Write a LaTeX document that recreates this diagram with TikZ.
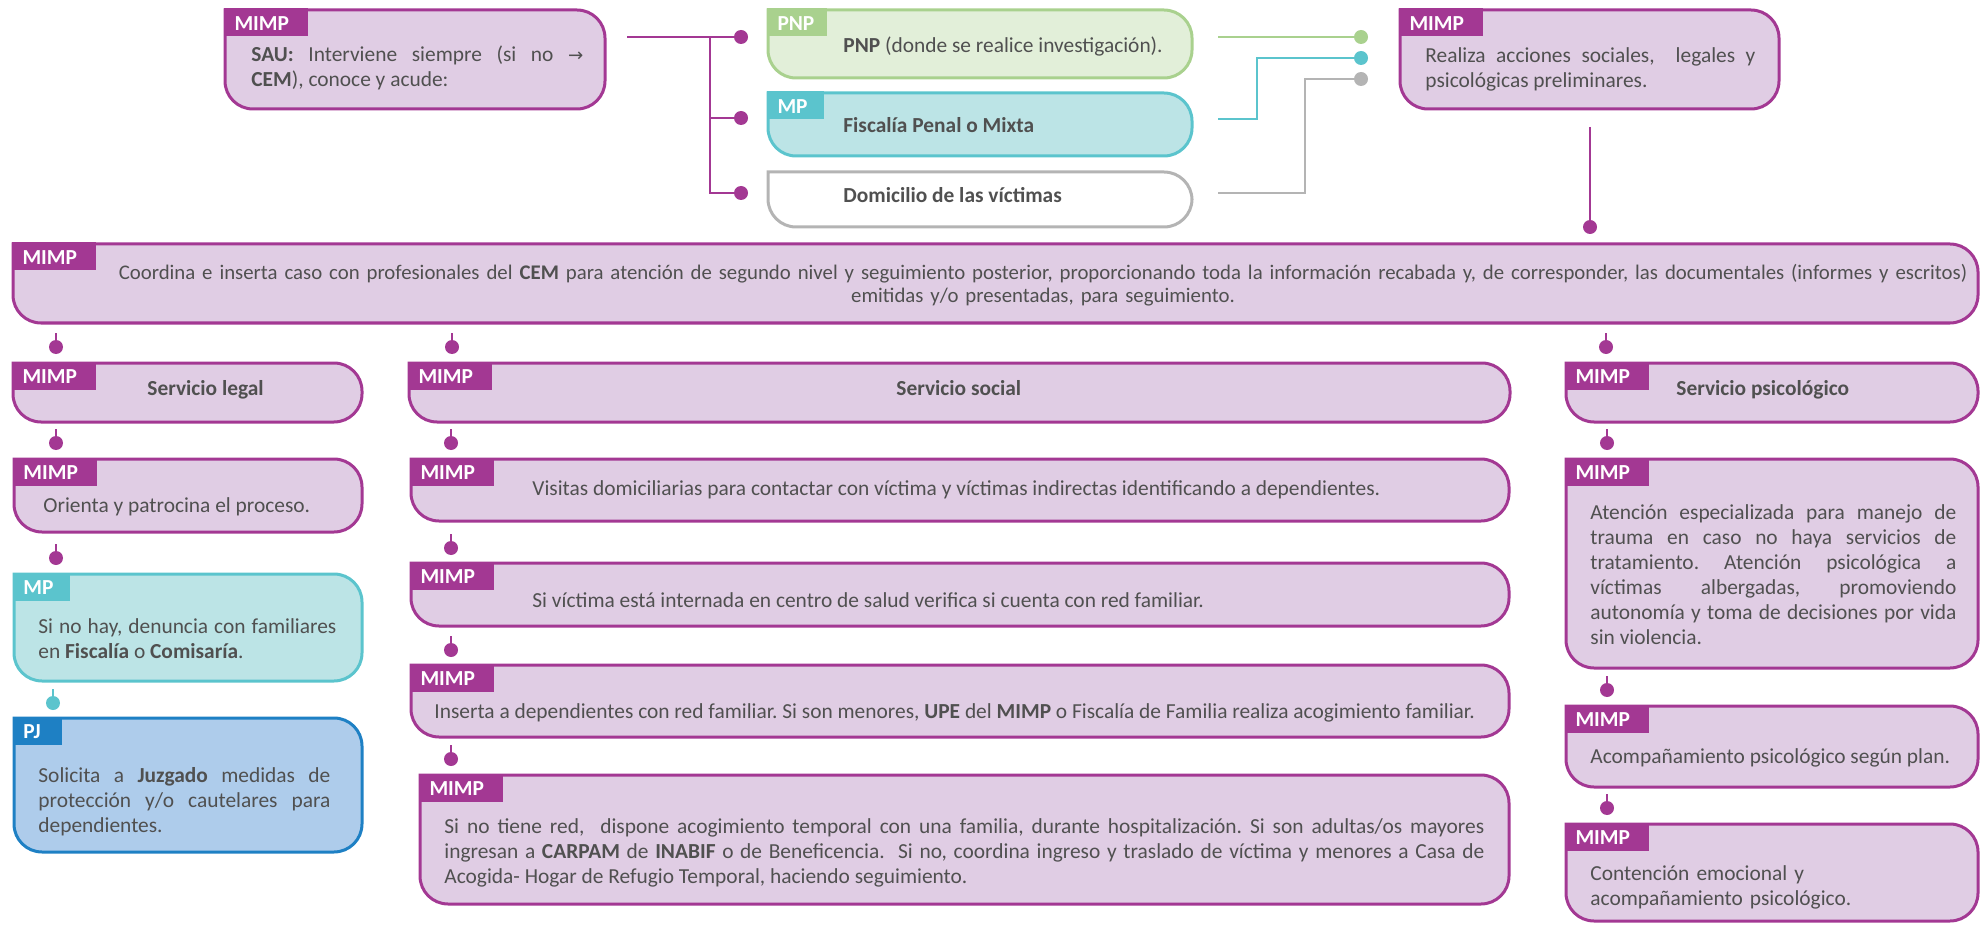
\documentclass[tikz,border=0pt]{standalone}
\usepackage{fontspec}
\setmainfont{Carlito}
\newfontfamily\arrowfnt[Scale=0.85]{DejaVu Sans}
\usetikzlibrary{fit}

\definecolor{ink}{RGB}{80,80,80}
\definecolor{mimp}{RGB}{163,56,147}
\definecolor{mimpfill}{RGB}{224,205,228}
\definecolor{pnpgreen}{RGB}{169,209,142}
\definecolor{pnpgreenfill}{RGB}{226,239,217}
\definecolor{mpteal}{RGB}{91,196,205}
\definecolor{mptealfill}{RGB}{188,228,230}
\definecolor{pjblue}{RGB}{30,128,196}
\definecolor{pjbluefill}{RGB}{174,204,235}
\definecolor{domgray}{RGB}{180,180,180}
\definecolor{domgrayfill}{RGB}{255,255,255}

\frenchspacing
\newcommand\bodyfont{\fontsize{10.7pt}{12.5pt}\selectfont}
% outline of a card: square top-left corner, the others rounded
\newcommand\drawcard[2]{\draw[cardline=#1] (#2.north west) -- (#2.north east) -- (#2.south east) -- (#2.south west) -- (#2.north west);}

\begin{document}
\begin{tikzpicture}[x=0.5pt, y=-0.5pt]
  \tikzset{
    card/.style={rectangle, inner sep=0pt, outer sep=0pt},
    cardline/.style={draw=#1, fill=#1fill, line width=1.5pt, rounded corners=14pt, line cap=rect},
    tag/.style 2 args={
      rectangle, fill=#1, text=white, font=\bodyfont\bfseries,
      anchor=north west, inner xsep=5.5pt, inner ysep=0pt, outer sep=0pt,
      text width=#2, align=left, minimum height=14pt,
      text height=8pt, text depth=0pt,
    },
    txt/.style={anchor=base west, inner sep=0pt, text=ink, font=\bodyfont},
    dot/.style={circle, fill=#1, inner sep=0pt, minimum size=7pt},
    link/.style={draw=#1, line width=0.8pt},
  }
  \useasboundingbox (0,0) rectangle (1981,925);

  % first contact
  \node[card, fit={(225,10) (605,109)}] (sau) {};
  \drawcard{mimp}{sau}
  \node[tag={mimp}{31pt}] (sau-tag) at ([shift={(-0.75pt,0.75pt)}]sau.north west) {MIMP};
  \node[txt, text width=166pt, align=justify] (sau-txt) at (251,62)
    {\textbf{SAU:} Interviene siempre (si no {\arrowfnt →}\linebreak \textbf{CEM}), conoce y acude:};

  \node[card, fit={(768,10) (1192,78)}] (pnp) {};
  \drawcard{pnpgreen}{pnp}
  \node[tag={pnpgreen}{19pt}] (pnp-tag) at ([shift={(-0.75pt,0.75pt)}]pnp.north west) {PNP};
  \node[txt] (pnp-txt) at (843,53) {\textbf{PNP} (donde se realice investigación).};

  \node[card, fit={(768,93) (1192,156)}] (fisc) {};
  \drawcard{mpteal}{fisc}
  \node[tag={mpteal}{17.5pt}] (fisc-tag) at ([shift={(-0.75pt,0.75pt)}]fisc.north west) {MP};
  \node[txt] (fisc-txt) at (843,133) {\textbf{Fiscalía Penal o Mixta}};

  \node[card, fit={(768,172) (1192,227)}] (dom) {};
  \drawcard{domgray}{dom}
  \node[txt] (dom-txt) at (843,203) {\textbf{Domicilio de las víctimas}};

  \node[card, fit={(1400,10) (1779,109)}] (realiza) {};
  \drawcard{mimp}{realiza}
  \node[tag={mimp}{31pt}] (realiza-tag) at ([shift={(-0.75pt,0.75pt)}]realiza.north west) {MIMP};
  \node[txt, text width=165pt, align=justify] (realiza-txt) at (1425,63)
    {Realiza acciones sociales, \ legales y\linebreak psicológicas preliminares.};

  % connectors of the first row
  \coordinate (sau-out) at (627,37);
  \coordinate (split) at (710,37);
  \node[dot=mimp] (l1) at (741,37) {};
  \node[dot=mimp] (l2) at (741,118) {};
  \node[dot=mimp] (l3) at (741,193) {};
  \draw[link=mimp] (sau-out) -- (l1);
  \draw[link=mimp] (split) |- (l2);
  \draw[link=mimp] (split) |- (l3);

  \coordinate (pnp-out) at (1218,37);
  \coordinate (fisc-out) at (1218,119);
  \coordinate (dom-out) at (1218,193);
  \node[dot=pnpgreen] (r1) at (1361,37) {};
  \node[dot=mpteal] (r2) at (1361,58) {};
  \node[dot=domgray] (r3) at (1361,79) {};
  \draw[link=pnpgreen] (pnp-out) -- (r1);
  \draw[link=mpteal] (fisc-out) -- ++(39,0) |- (r2);
  \draw[link=domgray] (dom-out) -- ++(87,0) |- (r3);

  \coordinate (realiza-out) at (1590,127);
  \node[dot=mimp] (c0) at (1590,227) {};
  \draw[link=mimp] (realiza-out) -- (c0);

  % coordination with the CEM
  \node[card, fit={(13,244) (1978,323)}] (coord) {};
  \drawcard{mimp}{coord}
  \node[tag={mimp}{31pt}] (coord-tag) at ([shift={(-0.75pt,0.75pt)}]coord.north west) {MIMP};
  \node[txt, anchor=base, text width=960pt, align=center, font=\fontsize{10.4pt}{11.5pt}\selectfont] (coord-txt) at (1043,280)
    {Coordina e inserta caso con profesionales del \textbf{CEM} para atención de segundo nivel y seguimiento posterior, proporcionando toda la información recabada y, de corresponder, las documentales (informes y escritos)\\ emitidas y/o presentadas, para seguimiento.};

  \node[dot=mimp] (c1) at (56,347) {};
  \node[dot=mimp] (c2) at (452,347) {};
  \node[dot=mimp] (c3) at (1606,347) {};
  \draw[link=mimp] (c1.center) -- ++(0,-14);
  \draw[link=mimp] (c2.center) -- ++(0,-14);
  \draw[link=mimp] (c3.center) -- ++(0,-14);

  % services
  \node[card, fit={(13,363) (362,422)}] (legal) {};
  \drawcard{mimp}{legal}
  \node[tag={mimp}{31pt}] (legal-tag) at ([shift={(-0.75pt,0.75pt)}]legal.north west) {MIMP};
  \node[txt] (legal-txt) at (147,395) {\textbf{Servicio legal}};

  \node[card, fit={(409,363) (1510,422)}] (social) {};
  \drawcard{mimp}{social}
  \node[tag={mimp}{31pt}] (social-tag) at ([shift={(-0.75pt,0.75pt)}]social.north west) {MIMP};
  \node[txt] (social-txt) at (896,395) {\textbf{Servicio social}};

  \node[card, fit={(1566,363) (1978,422)}] (psico) {};
  \drawcard{mimp}{psico}
  \node[tag={mimp}{31pt}] (psico-tag) at ([shift={(-0.75pt,0.75pt)}]psico.north west) {MIMP};
  \node[txt] (psico-txt) at (1676,395) {\textbf{Servicio psicológico}};

  % legal column
  \node[dot=mimp] (g1) at (56,443) {};
  \draw[link=mimp] (g1.center) -- ++(0,-14);
  \node[card, fit={(14,459) (362,532)}] (orienta) {};
  \drawcard{mimp}{orienta}
  \node[tag={mimp}{31pt}] (orienta-tag) at ([shift={(-0.75pt,0.75pt)}]orienta.north west) {MIMP};
  \node[txt] (orienta-txt) at (43,512) {Orienta y patrocina el proceso.};

  \node[dot=mimp] (g2) at (56,558) {};
  \draw[link=mimp] (g2.center) -- ++(0,-14);
  \node[card, fit={(14,574) (362,681)}] (denuncia) {};
  \drawcard{mpteal}{denuncia}
  \node[tag={mpteal}{17.5pt}] (denuncia-tag) at ([shift={(-0.75pt,0.75pt)}]denuncia.north west) {MP};
  \node[txt, text width=149pt, align=justify] (denuncia-txt) at (38,633)
    {Si no hay, denuncia con familiares\linebreak en \textbf{Fiscalía} o \textbf{Comisaría}.};

  \node[dot=mpteal] (g3) at (53,703) {};
  \draw[link=mpteal] (g3.center) -- ++(0,-14);
  \node[card, fit={(14,718) (362,852)}] (pj) {};
  \drawcard{pjblue}{pj}
  \node[tag={pjblue}{13.5pt}] (pj-tag) at ([shift={(-0.75pt,0.75pt)}]pj.north west) {PJ};
  \node[txt, text width=146pt, align=justify] (pj-txt) at (38,782)
    {Solicita a \textbf{Juzgado} medidas de\linebreak protección y/o cautelares para\linebreak dependientes.};

  % social column
  \node[dot=mimp] (s1) at (451,443) {};
  \draw[link=mimp] (s1.center) -- ++(0,-14);
  \node[card, fit={(411,459) (1509,521)}] (visitas) {};
  \drawcard{mimp}{visitas}
  \node[tag={mimp}{31pt}] (visitas-tag) at ([shift={(-0.75pt,0.75pt)}]visitas.north west) {MIMP};
  \node[txt] (visitas-txt) at (532,495) {Visitas domiciliarias para contactar con víctima y víctimas indirectas identificando a dependientes.};

  \node[dot=mimp] (s2) at (451,548) {};
  \draw[link=mimp] (s2.center) -- ++(0,-14);
  \node[card, fit={(411,563) (1509,626)}] (interna) {};
  \drawcard{mimp}{interna}
  \node[tag={mimp}{31pt}] (interna-tag) at ([shift={(-0.75pt,0.75pt)}]interna.north west) {MIMP};
  \node[txt] (interna-txt) at (532,607) {Si víctima está internada en centro de salud verifica si cuenta con red familiar.};

  \node[dot=mimp] (s3) at (451,650) {};
  \draw[link=mimp] (s3.center) -- ++(0,-14);
  \node[card, fit={(411,665) (1509,737)}] (inserta) {};
  \drawcard{mimp}{inserta}
  \node[tag={mimp}{31pt}] (inserta-tag) at ([shift={(-0.75pt,0.75pt)}]inserta.north west) {MIMP};
  \node[txt] (inserta-txt) at (434,718) {Inserta a dependientes con red familiar. Si son menores, \textbf{UPE} del \textbf{MIMP} o Fiscalía de Familia realiza acogimiento familiar.};

  \node[dot=mimp] (s4) at (451,759) {};
  \draw[link=mimp] (s4.center) -- ++(0,-14);
  \node[card, fit={(420,775) (1509,904)}] (acogida) {};
  \drawcard{mimp}{acogida}
  \node[tag={mimp}{31pt}] (acogida-tag) at ([shift={(-0.75pt,0.75pt)}]acogida.north west) {MIMP};
  \node[txt, text width=520pt, align=justify] (acogida-txt) at (444,833)
    {Si no tiene red, \ dispone acogimiento temporal con una familia, durante hospitalización. Si son adultas/os mayores\linebreak ingresan a \textbf{CARPAM} de \textbf{INABIF} o de Beneficencia. \ Si no, coordina ingreso y traslado de víctima y menores a Casa de\linebreak Acogida- Hogar de Refugio Temporal, haciendo seguimiento.};

  % psychological column
  \node[dot=mimp] (p1) at (1607,443) {};
  \draw[link=mimp] (p1.center) -- ++(0,-14);
  \node[card, fit={(1566,459) (1978,668)}] (atencion) {};
  \drawcard{mimp}{atencion}
  \node[tag={mimp}{31pt}] (atencion-tag) at ([shift={(-0.75pt,0.75pt)}]atencion.north west) {MIMP};
  \node[txt, text width=183pt, align=justify] (atencion-txt) at (1590,519)
    {Atención especializada para manejo de\linebreak trauma en caso no haya servicios de\linebreak tratamiento. Atención psicológica a\linebreak víctimas albergadas, promoviendo\linebreak autonomía y toma de decisiones por vida\linebreak sin violencia.};

  \node[dot=mimp] (p2) at (1607,690) {};
  \draw[link=mimp] (p2.center) -- ++(0,-14);
  \node[card, fit={(1566,706) (1978,787)}] (acomp) {};
  \drawcard{mimp}{acomp}
  \node[tag={mimp}{31pt}] (acomp-tag) at ([shift={(-0.75pt,0.75pt)}]acomp.north west) {MIMP};
  \node[txt] (acomp-txt) at (1590,763) {Acompañamiento psicológico según plan.};

  \node[dot=mimp] (p3) at (1607,808) {};
  \draw[link=mimp] (p3.center) -- ++(0,-14);
  \node[card, fit={(1566,824) (1978,921)}] (contencion) {};
  \drawcard{mimp}{contencion}
  \node[tag={mimp}{31pt}] (contencion-tag) at ([shift={(-0.75pt,0.75pt)}]contencion.north west) {MIMP};
  \node[txt, text width=180pt, align=left] (contencion-txt) at (1590,880) {Contención emocional y\\ acompañamiento psicológico.};
\end{tikzpicture}
\end{document}
